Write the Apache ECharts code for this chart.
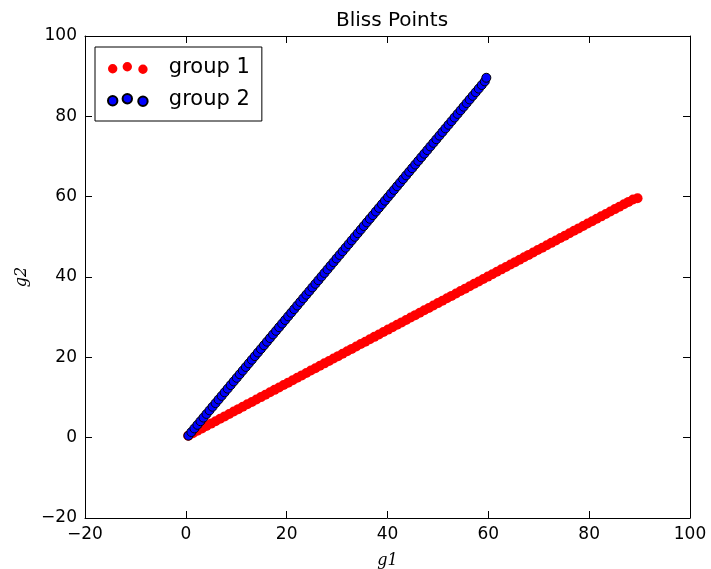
<!DOCTYPE html>
<html>
<head>
<meta charset="utf-8">
<script src="https://cdn.jsdelivr.net/npm/echarts@6/dist/echarts.min.js"></script>
<style>
  html, body { margin: 0; padding: 0; background: #fff; }
  #chart { width: 711px; height: 569px; }
</style>
</head>
<body>
<div id="chart"></div>
<script>
// bliss points
var longSide = [0.5, 1.4, 2.3, 3.2, 4.1, 5.0, 5.9, 6.8, 7.7, 8.6,
  9.5, 10.4, 11.3, 12.2, 13.1, 14.0, 14.9, 15.8, 16.7, 17.6,
  18.5, 19.4, 20.3, 21.2, 22.1, 23.0, 23.9, 24.8, 25.7, 26.6,
  27.5, 28.4, 29.3, 30.2, 31.1, 32.0, 32.9, 33.8, 34.7, 35.6,
  36.5, 37.4, 38.3, 39.2, 40.1, 41.0, 41.9, 42.8, 43.7, 44.6,
  45.5, 46.4, 47.3, 48.2, 49.1, 50.0, 50.9, 51.8, 52.7, 53.6,
  54.5, 55.4, 56.3, 57.2, 58.1, 59.0, 59.9, 60.8, 61.7, 62.6,
  63.5, 64.4, 65.3, 66.2, 67.1, 68.0, 68.9, 69.8, 70.7, 71.6,
  72.5, 73.4, 74.3, 75.2, 76.1, 77.0, 77.9, 78.8, 79.7, 80.6,
  81.5, 82.4, 83.3, 84.2, 85.1, 86.0, 86.9, 87.8, 88.7, 89.6]
var shortSide = [0.5, 1.1, 1.7, 2.3, 2.9, 3.5, 4.1, 4.7, 5.3, 5.9,
  6.5, 7.1, 7.7, 8.3, 8.9, 9.5, 10.1, 10.7, 11.3, 11.9,
  12.5, 13.1, 13.7, 14.3, 14.9, 15.5, 16.1, 16.7, 17.3, 17.9,
  18.5, 19.1, 19.7, 20.3, 20.9, 21.5, 22.1, 22.7, 23.3, 23.9,
  24.5, 25.1, 25.7, 26.3, 26.9, 27.5, 28.1, 28.7, 29.3, 29.9,
  30.5, 31.1, 31.7, 32.3, 32.9, 33.5, 34.1, 34.7, 35.3, 35.9,
  36.5, 37.1, 37.7, 38.3, 38.9, 39.5, 40.1, 40.7, 41.3, 41.9,
  42.5, 43.1, 43.7, 44.3, 44.9, 45.5, 46.1, 46.7, 47.3, 47.9,
  48.5, 49.1, 49.7, 50.3, 50.9, 51.5, 52.1, 52.7, 53.3, 53.9,
  54.5, 55.1, 55.7, 56.3, 56.9, 57.5, 58.1, 58.7, 59.3, 59.6]

// group 1: g1 = long side, g2 = short side; group 2 the other way round
var group1G1 = longSide
var group1G2 = shortSide
var group2G1 = shortSide
var group2G2 = longSide

var seriesNames = ['group 1', 'group 2']
var axisMin = -20
var axisMax = 100
var tickStep = 20

function pairs(xs, ys) {
    return xs.map(function(x, i) { return [x, ys[i]] })
}

// three dots like matplotlib's legend scatter markers
var threeDots = 'path://M2,6.5a4.5,4.5 0 1,0 9,0a4.5,4.5 0 1,0 -9,0z' +
    'M16,4.5a4.5,4.5 0 1,0 9,0a4.5,4.5 0 1,0 -9,0z' +
    'M31,7a4.5,4.5 0 1,0 9,0a4.5,4.5 0 1,0 -9,0z'

var minusFmt = function(v) { return String(v).replace('-', '\u2212') }
var tickFont = { color: '#000', fontSize: 17, fontFamily: 'DejaVu Sans' }
var nameFont = { color: '#000', fontSize: 16, fontFamily: 'DejaVu Serif', fontStyle: 'italic' }

function valueAxis(pos, show, extra) {
    var ax = {
        type: 'value',
        position: pos,
        min: axisMin,
        max: axisMax,
        interval: tickStep,
        axisLine: { show: true, onZero: false, lineStyle: { color: '#000', width: 1 } },
        axisTick: { show: true, inside: true, length: 7, lineStyle: { color: '#000' } },
        axisLabel: { show: show, formatter: minusFmt, margin: 8 },
        splitLine: { show: false }
    }
    ax.axisLabel = Object.assign(ax.axisLabel, tickFont)
    return Object.assign(ax, extra || {})
}

var chart = echarts.init(document.getElementById('chart'))
chart.setOption({
    animation: false,
    backgroundColor: '#fff',
    title: {
        text: 'Bliss Points',
        left: 387,
        top: 6,
        textAlign: 'center',
        textStyle: { color: '#000', fontSize: 20, fontWeight: 'normal', fontFamily: 'DejaVu Sans' }
    },
    grid: { left: 85, right: 21, top: 36, bottom: 51, containLabel: false, outerBoundsMode: 'none' },
    legend: {
        orient: 'vertical',
        left: 95,
        top: 47,
        padding: [10, 12, 10, 12],
        itemGap: 10,
        itemWidth: 40,
        itemHeight: 12,
        borderColor: '#000',
        borderWidth: 1,
        borderRadius: 0,
        backgroundColor: '#fff',
        textStyle: {
            color: '#000', fontSize: 21, lineHeight: 22, fontFamily: 'DejaVu Sans',
            padding: [0, 0, 0, 16]
        },
        data: [
            { name: seriesNames[0], icon: threeDots },
            { name: seriesNames[1], icon: threeDots }
        ]
    },
    xAxis: [
        valueAxis('bottom', true, {
            name: 'g1', nameLocation: 'middle', nameGap: 35, nameTextStyle: nameFont
        }),
        valueAxis('top', false)
    ],
    yAxis: [
        valueAxis('left', true, {
            name: 'g2', nameLocation: 'middle', nameGap: 55, nameTextStyle: nameFont
        }),
        valueAxis('right', false)
    ],
    series: [
        {
            name: seriesNames[0],
            type: 'scatter',
            symbolSize: 10,
            itemStyle: { color: '#ff0000', opacity: 1 },
            data: pairs(group1G1, group1G2)
        },
        {
            name: seriesNames[1],
            type: 'scatter',
            symbolSize: 9,
            itemStyle: { color: '#0000ff', borderColor: '#000', borderWidth: 1, opacity: 1 },
            data: pairs(group2G1, group2G2)
        }
    ]
})
</script>
</body>
</html>
